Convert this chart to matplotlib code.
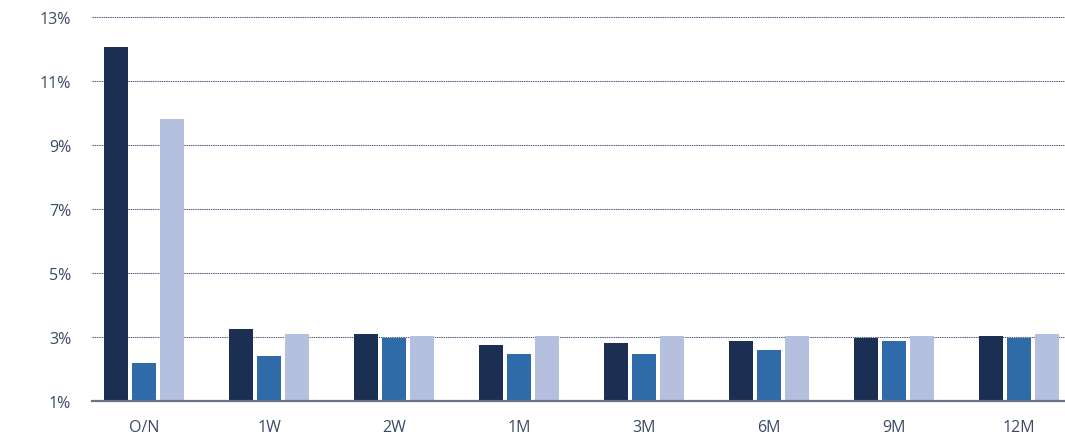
import matplotlib
matplotlib.use("Agg")
import matplotlib.pyplot as plt
import numpy as np

categories = ["O/N", "1W", "2W", "1M", "3M", "6M", "9M", "12M"]
series_a = [12.06, 3.25, 3.09, 2.75, 2.81, 2.88, 2.97, 3.03]
series_b = [2.19, 2.41, 2.97, 2.47, 2.47, 2.59, 2.88, 2.97]
series_c = [9.81, 3.09, 3.03, 3.03, 3.03, 3.03, 3.03, 3.09]
yticks = [1, 3, 5, 7, 9, 11, 13]

colors = ["#1b2f52", "#2e6ba8", "#b4c0de"]

plt.rcParams['font.family'] = ['Open Sans', 'DejaVu Sans']

fig = plt.figure(figsize=(10.65, 4.39), dpi=100)
ax = fig.add_axes([92/1065, 1 - 402/439, (1065-92)/1065, (402-18)/439])

x = np.arange(len(categories))
w = 0.19
off = 0.222
ax.bar(x - off, np.array(series_a) - 1, w, bottom=1, color=colors[0], zorder=3)
ax.bar(x, np.array(series_b) - 1, w, bottom=1, color=colors[1], zorder=3)
ax.bar(x + off, np.array(series_c) - 1, w, bottom=1, color=colors[2], zorder=3)

ax.set_ylim(1, 13)
ax.set_xlim(-0.416, 7.368)
ax.set_yticks(yticks)
ax.set_yticklabels([f"{v}%" for v in yticks])
ax.set_xticks(x)
ax.set_xticklabels(categories)

for yv in yticks[1:]:
    ax.axhline(yv, color="#4a5a7a", lw=0.7, ls=(0, (1.5, 0.8)), zorder=1)

for s in ["top", "right", "left"]:
    ax.spines[s].set_visible(False)
ax.spines["bottom"].set_color("#6b7385")
ax.spines["bottom"].set_linewidth(1.6)
ax.spines["bottom"].set_zorder(4)

ax.tick_params(axis="both", length=0, labelsize=11.5, colors="#3a4a66")
ax.tick_params(axis="y", pad=15)
ax.tick_params(axis="x", pad=13)

fig.savefig("out.png", dpi=100)
